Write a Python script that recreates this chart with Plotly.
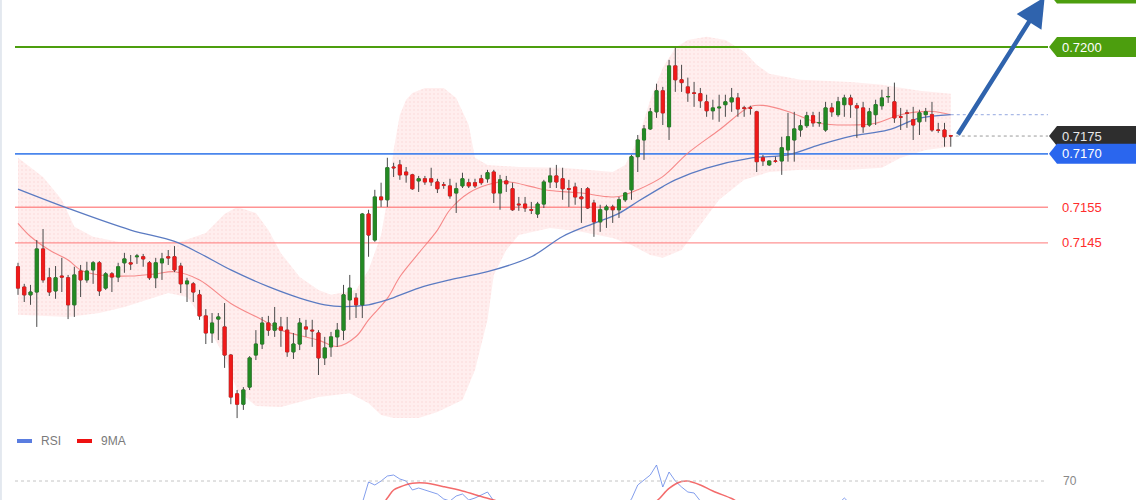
import plotly.graph_objects as go

# ---------------- data ----------------
candle_idx = list(range(150))

open_ = [
    0.71383, 0.71326, 0.71304, 0.71312, 0.71433, 0.71352, 0.71315, 0.71357, 0.71352, 0.71276,
    0.71371, 0.71346, 0.71374, 0.71394, 0.71323, 0.71363, 0.71354, 0.71394, 0.71394, 0.71411,
    0.71411, 0.71394, 0.71352, 0.71394, 0.71411, 0.71411, 0.71385, 0.71335, 0.71335, 0.71304,
    0.71245, 0.71197, 0.71236, 0.71214, 0.71135, 0.71026, 0.70997, 0.71045, 0.71135, 0.71166,
    0.71225, 0.71205, 0.71214, 0.71205, 0.71144, 0.71166, 0.71214, 0.71205, 0.71197, 0.71127,
    0.71158, 0.71186, 0.71205, 0.71290, 0.71295, 0.71276, 0.71531, 0.71458, 0.71579, 0.71571,
    0.71663, 0.71669, 0.71649, 0.71641, 0.71624, 0.71630, 0.71630, 0.71621, 0.71613, 0.71610,
    0.71590, 0.71610, 0.71619, 0.71619, 0.71630, 0.71630, 0.71649, 0.71590, 0.71624, 0.71602,
    0.71559, 0.71559, 0.71543, 0.71531, 0.71559, 0.71621, 0.71638, 0.71630, 0.71602, 0.71607,
    0.71579, 0.71602, 0.71562, 0.71509, 0.71543, 0.71551, 0.71543, 0.71571, 0.71599, 0.71692,
    0.71739, 0.71770, 0.71818, 0.71877, 0.71776, 0.71947, 0.71908, 0.71888, 0.71871, 0.71869,
    0.71846, 0.71821, 0.71829, 0.71838, 0.71846, 0.71857, 0.71829, 0.71829, 0.71818, 0.71689,
    0.71669, 0.71680, 0.71680, 0.71711, 0.71739, 0.71767, 0.71779, 0.71807, 0.71787, 0.71767,
    0.71829, 0.71810, 0.71838, 0.71857, 0.71835, 0.71829, 0.71781, 0.71810, 0.71835, 0.71860,
    0.71846, 0.71804, 0.71815, 0.71796, 0.71790, 0.71810, 0.71810, 0.71767, 0.71767, 0.71751,
]
high = [
    0.71394, 0.71335, 0.71332, 0.71458, 0.71489, 0.71380, 0.71385, 0.71408, 0.71360, 0.71383,
    0.71388, 0.71397, 0.71399, 0.71399, 0.71368, 0.71368, 0.71394, 0.71422, 0.71416, 0.71419,
    0.71419, 0.71399, 0.71408, 0.71422, 0.71430, 0.71441, 0.71394, 0.71352, 0.71340, 0.71318,
    0.71264, 0.71253, 0.71253, 0.71281, 0.71138, 0.71037, 0.71045, 0.71132, 0.71205, 0.71242,
    0.71245, 0.71270, 0.71242, 0.71242, 0.71197, 0.71239, 0.71234, 0.71234, 0.71205, 0.71186,
    0.71200, 0.71225, 0.71332, 0.71360, 0.71309, 0.71534, 0.71543, 0.71599, 0.71619, 0.71689,
    0.71675, 0.71683, 0.71663, 0.71644, 0.71638, 0.71638, 0.71661, 0.71630, 0.71621, 0.71630,
    0.71619, 0.71647, 0.71630, 0.71630, 0.71641, 0.71655, 0.71655, 0.71641, 0.71638, 0.71619,
    0.71579, 0.71579, 0.71565, 0.71565, 0.71627, 0.71661, 0.71669, 0.71661, 0.71627, 0.71619,
    0.71604, 0.71607, 0.71571, 0.71557, 0.71557, 0.71557, 0.71579, 0.71593, 0.71697, 0.71753,
    0.71781, 0.71829, 0.71897, 0.71888, 0.71964, 0.71998, 0.71950, 0.71914, 0.71902, 0.71885,
    0.71866, 0.71852, 0.71866, 0.71866, 0.71885, 0.71871, 0.71835, 0.71835, 0.71821, 0.71697,
    0.71681, 0.71692, 0.71748, 0.71815, 0.71818, 0.71796, 0.71818, 0.71818, 0.71818, 0.71846,
    0.71843, 0.71860, 0.71866, 0.71866, 0.71843, 0.71846, 0.71829, 0.71852, 0.71880, 0.71888,
    0.71900, 0.71829, 0.71824, 0.71832, 0.71824, 0.71829, 0.71846, 0.71787, 0.71787, 0.71753,
]
low = [
    0.71304, 0.71284, 0.71276, 0.71214, 0.71338, 0.71301, 0.71293, 0.71312, 0.71236, 0.71242,
    0.71298, 0.71338, 0.71335, 0.71301, 0.71318, 0.71312, 0.71340, 0.71366, 0.71374, 0.71391,
    0.71383, 0.71346, 0.71323, 0.71346, 0.71388, 0.71368, 0.71309, 0.71284, 0.71284, 0.71234,
    0.71166, 0.71169, 0.71177, 0.71099, 0.70997, 0.70958, 0.70981, 0.71037, 0.71121, 0.71152,
    0.71189, 0.71186, 0.71158, 0.71130, 0.71124, 0.71149, 0.71186, 0.71158, 0.71079, 0.71107,
    0.71130, 0.71158, 0.71177, 0.71234, 0.71239, 0.71239, 0.71411, 0.71453, 0.71551, 0.71551,
    0.71635, 0.71627, 0.71619, 0.71599, 0.71593, 0.71613, 0.71610, 0.71590, 0.71602, 0.71574,
    0.71534, 0.71604, 0.71604, 0.71604, 0.71613, 0.71619, 0.71562, 0.71543, 0.71593, 0.71540,
    0.71540, 0.71537, 0.71531, 0.71520, 0.71548, 0.71604, 0.71604, 0.71571, 0.71551, 0.71557,
    0.71506, 0.71545, 0.71467, 0.71481, 0.71492, 0.71506, 0.71520, 0.71565, 0.71571, 0.71649,
    0.71683, 0.71767, 0.71801, 0.71781, 0.71739, 0.71874, 0.71874, 0.71846, 0.71832, 0.71829,
    0.71804, 0.71796, 0.71790, 0.71804, 0.71818, 0.71804, 0.71804, 0.71810, 0.71649, 0.71666,
    0.71666, 0.71675, 0.71641, 0.71678, 0.71678, 0.71748, 0.71773, 0.71776, 0.71776, 0.71762,
    0.71804, 0.71804, 0.71804, 0.71801, 0.71745, 0.71759, 0.71776, 0.71781, 0.71824, 0.71843,
    0.71787, 0.71767, 0.71773, 0.71739, 0.71753, 0.71790, 0.71762, 0.71759, 0.71720, 0.71720,
]
close = [
    0.71323, 0.71304, 0.71312, 0.71433, 0.71346, 0.71312, 0.71352, 0.71354, 0.71276, 0.71360,
    0.71346, 0.71371, 0.71394, 0.71315, 0.71363, 0.71354, 0.71383, 0.71405, 0.71391, 0.71413,
    0.71405, 0.71352, 0.71394, 0.71405, 0.71408, 0.71374, 0.71335, 0.71343, 0.71312, 0.71245,
    0.71197, 0.71225, 0.71242, 0.71135, 0.71017, 0.70997, 0.71037, 0.71127, 0.71166, 0.71225,
    0.71205, 0.71225, 0.71205, 0.71144, 0.71166, 0.71225, 0.71208, 0.71203, 0.71127, 0.71155,
    0.71186, 0.71205, 0.71304, 0.71323, 0.71276, 0.71531, 0.71472, 0.71579, 0.71571, 0.71661,
    0.71661, 0.71641, 0.71641, 0.71602, 0.71630, 0.71621, 0.71621, 0.71602, 0.71612, 0.71582,
    0.71602, 0.71630, 0.71610, 0.71610, 0.71619, 0.71647, 0.71590, 0.71627, 0.71616, 0.71543,
    0.71557, 0.71548, 0.71542, 0.71559, 0.71621, 0.71638, 0.71621, 0.71602, 0.71601, 0.71579,
    0.71574, 0.71548, 0.71509, 0.71543, 0.71551, 0.71543, 0.71571, 0.71590, 0.71692, 0.71739,
    0.71770, 0.71818, 0.71877, 0.71815, 0.71947, 0.71908, 0.71900, 0.71871, 0.71870, 0.71849,
    0.71821, 0.71829, 0.71831, 0.71846, 0.71857, 0.71826, 0.71828, 0.71828, 0.71678, 0.71680,
    0.71680, 0.71679, 0.71717, 0.71748, 0.71770, 0.71779, 0.71807, 0.71787, 0.71788, 0.71829,
    0.71818, 0.71846, 0.71857, 0.71838, 0.71829, 0.71776, 0.71818, 0.71838, 0.71857, 0.71861,
    0.71801, 0.71803, 0.71814, 0.71781, 0.71815, 0.71818, 0.71767, 0.71766, 0.71748, 0.71750,
]

# long moving average (blue)
ma_long_idx = [0, 8, 18, 25, 29, 34, 40, 45, 49, 52, 56, 59, 64, 69, 75, 82, 87, 92, 96, 99,
               103, 105, 110, 117, 123, 128, 133, 139, 144, 149]
ma_long = [0.71601, 0.71547, 0.71486, 0.71454, 0.71421, 0.71374, 0.71327, 0.71295, 0.71276, 0.71271,
           0.71276, 0.71290, 0.71323, 0.71346, 0.71369, 0.71411, 0.71468, 0.71505, 0.71533, 0.71566,
           0.71608, 0.71627, 0.71660, 0.71688, 0.71697, 0.71725, 0.71749, 0.71767, 0.71800, 0.71810]

# short moving average / band middle (red)
ma_short_idx = [0, 2, 5, 8, 10, 13, 18, 22, 25, 29, 34, 39, 42, 48, 51, 54, 56, 59, 61, 64,
                67, 69, 72, 75, 78, 82, 84, 87, 90, 94, 96, 99, 103, 107, 112, 117, 119, 123, 128, 133,
                137, 141, 146, 149]
ma_short = [0.71505, 0.71468, 0.71430, 0.71402, 0.71374, 0.71360, 0.71357, 0.71363, 0.71369, 0.71346,
            0.71280, 0.71234, 0.71205, 0.71177, 0.71159, 0.71187, 0.71234, 0.71294, 0.71355, 0.71421,
            0.71486, 0.71543, 0.71590, 0.71613, 0.71622, 0.71608, 0.71599, 0.71594, 0.71590, 0.71580,
            0.71580, 0.71599, 0.71636, 0.71702, 0.71767, 0.71833, 0.71836, 0.71819, 0.71786, 0.71781,
            0.71786, 0.71810, 0.71819, 0.71810]

# Bollinger band edges
band_up_idx = [0, 4, 7, 9, 12, 16, 21, 26, 30, 33, 35, 38, 40, 42, 45, 48, 50, 54, 56, 58,
               59, 60, 61, 62, 63, 65, 68, 70, 72, 73, 75, 80, 87, 91, 95, 97, 99, 101, 103, 105,
               107, 110, 113, 116, 118, 120, 125, 133, 138, 144, 149]
band_up = [0.71689, 0.71635, 0.71571, 0.71495, 0.71467, 0.71453, 0.71450, 0.71453, 0.71478, 0.71531,
           0.71551, 0.71534, 0.71486, 0.71421, 0.71354, 0.71318, 0.71304, 0.71318, 0.71374, 0.71472,
           0.71571, 0.71711, 0.71810, 0.71852, 0.71871, 0.71885, 0.71885, 0.71857, 0.71781, 0.71689,
           0.71669, 0.71663, 0.71661, 0.71655, 0.71649, 0.71669, 0.71739, 0.71852, 0.71942, 0.71998,
           0.72020, 0.72029, 0.72020, 0.71987, 0.71950, 0.71925, 0.71908, 0.71902, 0.71894, 0.71877,
           0.71869]
band_lo_idx = [0, 8, 13, 17, 24, 27, 30, 33, 35, 38, 42, 48, 53, 56, 58, 60, 64, 67, 71, 73,
               75, 76, 78, 80, 85, 90, 95, 98, 101, 103, 106, 109, 112, 116, 120, 125, 133, 138, 141, 145,
               149]
band_lo = [0.71248, 0.71242, 0.71253, 0.71270, 0.71309, 0.71298, 0.71225, 0.71130, 0.71037, 0.70992,
           0.70989, 0.71017, 0.71028, 0.71000, 0.70967, 0.70958, 0.70958, 0.70975, 0.71009, 0.71093,
           0.71234, 0.71360, 0.71430, 0.71472, 0.71492, 0.71481, 0.71464, 0.71444, 0.71416, 0.71408,
           0.71430, 0.71500, 0.71571, 0.71627, 0.71649, 0.71655, 0.71655, 0.71661, 0.71689, 0.71711,
           0.71720]

# RSI panel
rsi_idx = [45, 54, 55, 56, 57, 58, 59, 60, 61, 62, 63, 64, 65, 66, 67, 68, 69, 70, 71, 72,
           73, 74, 75, 76, 77, 85, 96, 97, 98, 99, 100, 101, 102, 103, 104, 105, 106, 107, 108, 109,
           110, 120, 131, 132, 133, 149]
rsi = [40, 42, 48, 69, 66, 70, 75, 76, 72, 70, 61, 63, 61, 59, 57, 52, 50, 55, 57, 51,
       53, 56, 59, 50, 45, 40, 42, 45, 52, 66, 71, 76, 86, 64, 79, 70, 64, 59, 58, 50,
       45, 40, 47, 53, 47, 44]
ma9_idx = [50, 58, 59, 60, 61, 63, 65, 68, 71, 74, 76, 78, 90, 100, 102, 104, 106, 107, 109, 111,
           114, 115, 117, 149]
ma9 = [40, 46, 53, 61, 64, 67.7, 68, 64.3, 60, 54.5, 51, 47, 42, 45, 50, 62.7, 69.5, 70, 66, 60,
       52.5, 49, 46, 45]
rsi_level = 70

# key levels
resist_levels = [0.7215, 0.7200]          # green tags
support_level = 0.7170                    # blue
red_levels = [0.7155, 0.7145]             # red
current_price = 0.7175
target_price = 0.7214

# ---------------- layout constants ----------------
W, H = 1140, 500
x_range = [-2.875, 179.23]
y_range = [0.70728, 0.72132]
px_price = (y_range[1] - y_range[0]) / H
px_idx = (x_range[1] - x_range[0]) / W
line_ix0 = x_range[0] + 15 * px_idx
line_ix1 = x_range[0] + 1048 * px_idx
FONT = "Liberation Sans, Arial, sans-serif"

GREEN = "#4c9e0e"
BLUE = "#2a66ee"

fig = go.Figure()

# Bollinger band fill
band_x = band_up_idx + band_lo_idx[::-1]
band_y = band_up + band_lo[::-1]
fig.add_trace(go.Scatter(
    x=band_x, y=band_y, mode="lines", fill="toself",
    line=dict(width=0, color="rgba(0,0,0,0)"),
    fillcolor="rgba(255,215,215,0.5)",
    fillpattern=dict(shape=".", fgcolor="rgba(240,175,175,0.45)",
                     bgcolor="rgba(255,226,226,0.6)", size=4, solidity=0.2),
    hoverinfo="skip", showlegend=False))

# level lines (drawn over band, under candles)
for lv in resist_levels:
    fig.add_trace(go.Scatter(x=[line_ix0, line_ix1], y=[lv, lv], mode="lines",
                             line=dict(color=GREEN, width=2), hoverinfo="skip", showlegend=False))
fig.add_trace(go.Scatter(x=[line_ix0, line_ix1], y=[support_level, support_level], mode="lines",
                         line=dict(color="#4a86ec", width=1.6), hoverinfo="skip", showlegend=False))
for lv in red_levels:
    fig.add_trace(go.Scatter(x=[line_ix0, line_ix1], y=[lv, lv], mode="lines",
                             line=dict(color="rgba(255,120,120,0.8)", width=1.3),
                             hoverinfo="skip", showlegend=False))

# moving averages
fig.add_trace(go.Scatter(x=ma_short_idx, y=ma_short, mode="lines",
                         line=dict(color="rgba(245,120,120,0.85)", width=1.1, shape="spline"),
                         hoverinfo="skip", showlegend=False))
fig.add_trace(go.Scatter(x=ma_long_idx, y=ma_long, mode="lines",
                         line=dict(color="#5b7bc2", width=1.3, shape="spline"),
                         hoverinfo="skip", showlegend=False))

# candles on an overlaying axis so they sit above the band: wicks then bodies
fig.add_trace(go.Candlestick(
    x=candle_idx, open=open_, high=high, low=low, close=close, yaxis="y3",
    increasing=dict(line=dict(color="#4a4a4a", width=1), fillcolor="#4a4a4a"),
    decreasing=dict(line=dict(color="#4a4a4a", width=1), fillcolor="#4a4a4a"),
    whiskerwidth=0, hoverinfo="skip", showlegend=False))
body_hi = [max(o, c) for o, c in zip(open_, close)]
body_lo = [min(o, c) for o, c in zip(open_, close)]
fig.add_trace(go.Candlestick(
    x=candle_idx, open=open_, high=body_hi, low=body_lo, close=close, yaxis="y3",
    increasing=dict(line=dict(color="#238a23", width=0.8), fillcolor="#238a23"),
    decreasing=dict(line=dict(color="#f01a1a", width=0.8), fillcolor="#f01a1a"),
    whiskerwidth=0, hoverinfo="skip", showlegend=False))

# RSI panel traces
fig.add_trace(go.Scatter(x=rsi_idx, y=rsi, yaxis="y2", mode="lines",
                         line=dict(color="rgba(90,125,230,0.75)", width=1),
                         hoverinfo="skip", showlegend=False))
fig.add_trace(go.Scatter(x=ma9_idx, y=ma9, yaxis="y2", mode="lines",
                         line=dict(color="rgba(240,70,70,0.8)", width=1.5, shape="spline"),
                         hoverinfo="skip", showlegend=False))

shapes = []
annotations = []

# dotted extensions from the last candle
last_i = candle_idx[-1]
shapes.append(dict(type="line", xref="x", yref="y", x0=last_i + 0.8, x1=line_ix1,
                   y0=current_price, y1=current_price,
                   line=dict(color="#9a9a9a", width=1, dash="dot")))
shapes.append(dict(type="line", xref="x", yref="y", x0=last_i, x1=line_ix1,
                   y0=ma_long[-1], y1=ma_long[-1],
                   line=dict(color="#a9b9e6", width=1.2, dash="dot")))

# price tags
tag_h = 10 * px_price
xt, xb, xr = 1049 / W, 1057 / W, 1136 / W


def tag(level, color, text, text_color="#ffffff"):
    path = (f"M {xt},{level} L {xb},{level + tag_h} L {xr},{level + tag_h} "
            f"L {xr},{level - tag_h} L {xb},{level - tag_h} Z")
    shapes.append(dict(type="path", xref="paper", yref="y", path=path,
                       fillcolor=color, line=dict(width=0), layer="above"))
    annotations.append(dict(x=1060 / W, y=level, xref="paper", yref="y", text=text,
                            showarrow=False, xanchor="left", yanchor="middle",
                            font=dict(color=text_color, size=13, family=FONT)))


for lv in resist_levels:
    tag(lv, GREEN, f"{lv:.4f}")
tag(current_price, "#2e2e2e", f"{current_price:.4f}", "#e8e8e8")
tag(support_level, BLUE, f"{support_level:.4f}")
for lv in red_levels:
    annotations.append(dict(x=1060 / W, y=lv, xref="paper", yref="y", text=f"{lv:.4f}",
                            showarrow=False, xanchor="left", yanchor="middle",
                            font=dict(color="#ff2d2d", size=13, family=FONT)))

# projection arrow
annotations.append(dict(x=164, y=target_price, xref="x", yref="y",
                        ax=last_i + 1, ay=current_price, axref="x", ayref="y",
                        text="", showarrow=True, arrowhead=2, arrowsize=1.3,
                        arrowwidth=4.5, arrowcolor="#2f63ad", standoff=0, startstandoff=0))

# RSI 70 line + label
shapes.append(dict(type="line", xref="paper", yref="y2", x0=15 / W, x1=1045 / W,
                   y0=rsi_level, y1=rsi_level, line=dict(color="#c4c4c4", width=1, dash="dot")))
annotations.append(dict(x=1061 / W, y=rsi_level, xref="paper", yref="y2", text=str(rsi_level),
                        showarrow=False, xanchor="left", yanchor="middle",
                        font=dict(color="#888888", size=12, family=FONT)))

# RSI legend
leg_y0, leg_y1 = 1 - 443 / H, 1 - 439 / H
shapes.append(dict(type="rect", xref="paper", yref="paper", x0=17 / W, x1=32 / W, y0=leg_y0, y1=leg_y1,
                   fillcolor="#5a7de0", line=dict(width=0)))
shapes.append(dict(type="rect", xref="paper", yref="paper", x0=77 / W, x1=92 / W, y0=leg_y0, y1=leg_y1,
                   fillcolor="#ee1111", line=dict(width=0)))
annotations.append(dict(x=39 / W, y=1 - 441 / H, xref="paper", yref="paper", text="RSI",
                        showarrow=False, xanchor="left", yanchor="middle",
                        font=dict(color="#7a7a7a", size=12, family=FONT)))
annotations.append(dict(x=99 / W, y=1 - 441 / H, xref="paper", yref="paper", text="9MA",
                        showarrow=False, xanchor="left", yanchor="middle",
                        font=dict(color="#7a7a7a", size=12, family=FONT)))

# faint left border
shapes.append(dict(type="line", xref="paper", yref="paper", x0=0.0008, x1=0.0008, y0=0, y1=1,
                   line=dict(color="#e3e8ef", width=2)))

fig.update_layout(
    width=W, height=H,
    margin=dict(l=0, r=0, t=0, b=0),
    paper_bgcolor="#ffffff", plot_bgcolor="rgba(0,0,0,0)",
    showlegend=False,
    xaxis=dict(range=x_range, visible=False, rangeslider=dict(visible=False), fixedrange=True),
    yaxis=dict(range=y_range, visible=False, domain=[0, 1], fixedrange=True),
    yaxis2=dict(range=[51, 131], visible=False, domain=[0, 0.16], anchor="x", fixedrange=True),
    yaxis3=dict(range=y_range, visible=False, overlaying="y", fixedrange=True),
    shapes=shapes, annotations=annotations,
    font=dict(family=FONT),
)

fig.write_html("out.html", config={"displayModeBar": False},
               post_script="document.body.style.margin='0';document.body.style.padding='0';")
